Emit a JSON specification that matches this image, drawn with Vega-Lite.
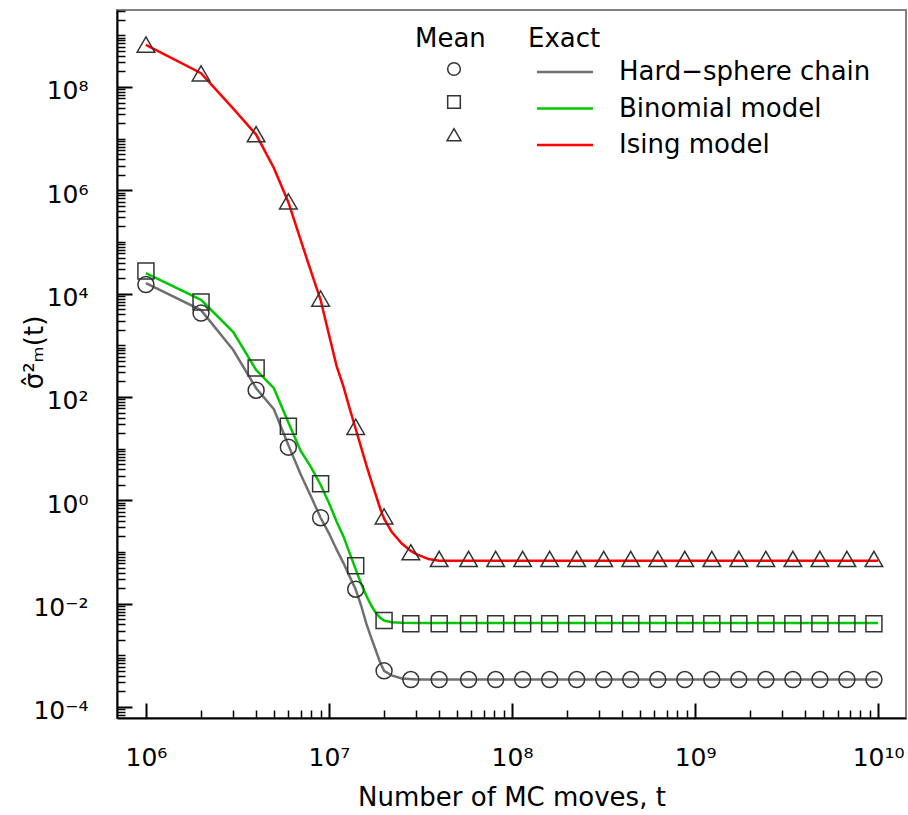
{
  "$schema": "https://vega.github.io/schema/vega-lite/v6.json",
  "width": 789,
  "height": 708,
  "autosize": {"type": "none"},
  "padding": {"left": 117, "top": 10, "right": 2, "bottom": 97},
  "background": "white",
  "config": {
    "font": "DejaVu Sans",
    "view": {"stroke": "#808080", "strokeWidth": 2}
  },
  "datasets": {
    "exact": [
      {"t": 1e6, "value": 1.6e4, "model": "Hard-sphere chain"},
      {"t": 2e6, "value": 4.8e3, "model": "Hard-sphere chain"},
      {"t": 3e6, "value": 810, "model": "Hard-sphere chain"},
      {"t": 4e6, "value": 148, "model": "Hard-sphere chain"},
      {"t": 5e6, "value": 58, "model": "Hard-sphere chain"},
      {"t": 6e6, "value": 11.7, "model": "Hard-sphere chain"},
      {"t": 7e6, "value": 3.2, "model": "Hard-sphere chain"},
      {"t": 8e6, "value": 1.16, "model": "Hard-sphere chain"},
      {"t": 9e6, "value": 0.46, "model": "Hard-sphere chain"},
      {"t": 1e7, "value": 0.23, "model": "Hard-sphere chain"},
      {"t": 1.1e7, "value": 0.112, "model": "Hard-sphere chain"},
      {"t": 1.2e7, "value": 0.061, "model": "Hard-sphere chain"},
      {"t": 1.3e7, "value": 0.033, "model": "Hard-sphere chain"},
      {"t": 1.4e7, "value": 0.0188, "model": "Hard-sphere chain"},
      {"t": 1.5e7, "value": 0.0091, "model": "Hard-sphere chain"},
      {"t": 1.6e7, "value": 0.0041, "model": "Hard-sphere chain"},
      {"t": 1.7e7, "value": 0.0022, "model": "Hard-sphere chain"},
      {"t": 1.8e7, "value": 0.00127, "model": "Hard-sphere chain"},
      {"t": 1.9e7, "value": 0.00074, "model": "Hard-sphere chain"},
      {"t": 2e7, "value": 0.0005, "model": "Hard-sphere chain"},
      {"t": 2.2e7, "value": 0.00041, "model": "Hard-sphere chain"},
      {"t": 2.5e7, "value": 0.000355, "model": "Hard-sphere chain"},
      {"t": 3e7, "value": 0.00034, "model": "Hard-sphere chain"},
      {"t": 4e7, "value": 0.00034, "model": "Hard-sphere chain"},
      {"t": 1e8, "value": 0.00034, "model": "Hard-sphere chain"},
      {"t": 1e9, "value": 0.00034, "model": "Hard-sphere chain"},
      {"t": 1e10, "value": 0.00034, "model": "Hard-sphere chain"},
      {"t": 1e6, "value": 2.5e4, "model": "Binomial model"},
      {"t": 2e6, "value": 7.6e3, "model": "Binomial model"},
      {"t": 3e6, "value": 1.8e3, "model": "Binomial model"},
      {"t": 4e6, "value": 333, "model": "Binomial model"},
      {"t": 5e6, "value": 148, "model": "Binomial model"},
      {"t": 6e6, "value": 32, "model": "Binomial model"},
      {"t": 7e6, "value": 9.1, "model": "Binomial model"},
      {"t": 8e6, "value": 4.3, "model": "Binomial model"},
      {"t": 9e6, "value": 2.0, "model": "Binomial model"},
      {"t": 1e7, "value": 0.89, "model": "Binomial model"},
      {"t": 1.1e7, "value": 0.39, "model": "Binomial model"},
      {"t": 1.2e7, "value": 0.2, "model": "Binomial model"},
      {"t": 1.3e7, "value": 0.093, "model": "Binomial model"},
      {"t": 1.4e7, "value": 0.046, "model": "Binomial model"},
      {"t": 1.5e7, "value": 0.024, "model": "Binomial model"},
      {"t": 1.6e7, "value": 0.0143, "model": "Binomial model"},
      {"t": 1.7e7, "value": 0.0093, "model": "Binomial model"},
      {"t": 1.8e7, "value": 0.0067, "model": "Binomial model"},
      {"t": 1.9e7, "value": 0.0054, "model": "Binomial model"},
      {"t": 2e7, "value": 0.0047, "model": "Binomial model"},
      {"t": 2.2e7, "value": 0.00435, "model": "Binomial model"},
      {"t": 2.5e7, "value": 0.00425, "model": "Binomial model"},
      {"t": 3e7, "value": 0.0042, "model": "Binomial model"},
      {"t": 4e7, "value": 0.0042, "model": "Binomial model"},
      {"t": 1e8, "value": 0.0042, "model": "Binomial model"},
      {"t": 1e9, "value": 0.0042, "model": "Binomial model"},
      {"t": 1e10, "value": 0.0042, "model": "Binomial model"},
      {"t": 1e6, "value": 6.5e8, "model": "Ising model"},
      {"t": 2e6, "value": 1.85e8, "model": "Ising model"},
      {"t": 3e6, "value": 3.8e7, "model": "Ising model"},
      {"t": 4e6, "value": 1.2e7, "model": "Ising model"},
      {"t": 5e6, "value": 2.7e6, "model": "Ising model"},
      {"t": 6e6, "value": 5.9e5, "model": "Ising model"},
      {"t": 7e6, "value": 1.1e5, "model": "Ising model"},
      {"t": 8e6, "value": 2.6e4, "model": "Ising model"},
      {"t": 9e6, "value": 7.6e3, "model": "Ising model"},
      {"t": 1e7, "value": 1.6e3, "model": "Ising model"},
      {"t": 1.1e7, "value": 400, "model": "Ising model"},
      {"t": 1.2e7, "value": 158, "model": "Ising model"},
      {"t": 1.3e7, "value": 58, "model": "Ising model"},
      {"t": 1.4e7, "value": 24, "model": "Ising model"},
      {"t": 1.5e7, "value": 10.5, "model": "Ising model"},
      {"t": 1.6e7, "value": 4.8, "model": "Ising model"},
      {"t": 1.7e7, "value": 2.4, "model": "Ising model"},
      {"t": 1.8e7, "value": 1.29, "model": "Ising model"},
      {"t": 1.9e7, "value": 0.71, "model": "Ising model"},
      {"t": 2e7, "value": 0.44, "model": "Ising model"},
      {"t": 2.2e7, "value": 0.245, "model": "Ising model"},
      {"t": 2.5e7, "value": 0.146, "model": "Ising model"},
      {"t": 2.8e7, "value": 0.105, "model": "Ising model"},
      {"t": 3e7, "value": 0.091, "model": "Ising model"},
      {"t": 3.5e7, "value": 0.073, "model": "Ising model"},
      {"t": 4e7, "value": 0.068, "model": "Ising model"},
      {"t": 1e8, "value": 0.068, "model": "Ising model"},
      {"t": 1e9, "value": 0.068, "model": "Ising model"},
      {"t": 1e10, "value": 0.068, "model": "Ising model"}
    ],
    "means": [
      {"t": 1e6, "value": 1.5e4, "model": "Hard-sphere chain"},
      {"t": 2e6, "value": 4.2e3, "model": "Hard-sphere chain"},
      {"t": 4e6, "value": 135, "model": "Hard-sphere chain"},
      {"t": 6e6, "value": 10.7, "model": "Hard-sphere chain"},
      {"t": 9e6, "value": 0.46, "model": "Hard-sphere chain"},
      {"t": 1.4e7, "value": 0.019, "model": "Hard-sphere chain"},
      {"t": 2e7, "value": 0.0005, "model": "Hard-sphere chain"},
      {"t": 2.8e7, "value": 0.00034, "model": "Hard-sphere chain"},
      {"t": 4e7, "value": 0.00034, "model": "Hard-sphere chain"},
      {"t": 5.79e7, "value": 0.00034, "model": "Hard-sphere chain"},
      {"t": 8.14e7, "value": 0.00034, "model": "Hard-sphere chain"},
      {"t": 1.143e8, "value": 0.00034, "model": "Hard-sphere chain"},
      {"t": 1.606e8, "value": 0.00034, "model": "Hard-sphere chain"},
      {"t": 2.256e8, "value": 0.00034, "model": "Hard-sphere chain"},
      {"t": 3.17e8, "value": 0.00034, "model": "Hard-sphere chain"},
      {"t": 4.453e8, "value": 0.00034, "model": "Hard-sphere chain"},
      {"t": 6.256e8, "value": 0.00034, "model": "Hard-sphere chain"},
      {"t": 8.788e8, "value": 0.00034, "model": "Hard-sphere chain"},
      {"t": 1.2344e9, "value": 0.00034, "model": "Hard-sphere chain"},
      {"t": 1.734e9, "value": 0.00034, "model": "Hard-sphere chain"},
      {"t": 2.436e9, "value": 0.00034, "model": "Hard-sphere chain"},
      {"t": 3.422e9, "value": 0.00034, "model": "Hard-sphere chain"},
      {"t": 4.807e9, "value": 0.00034, "model": "Hard-sphere chain"},
      {"t": 6.752e9, "value": 0.00034, "model": "Hard-sphere chain"},
      {"t": 9.485e9, "value": 0.00034, "model": "Hard-sphere chain"},
      {"t": 1e6, "value": 2.75e4, "model": "Binomial model"},
      {"t": 2e6, "value": 6.9e3, "model": "Binomial model"},
      {"t": 4e6, "value": 363, "model": "Binomial model"},
      {"t": 6e6, "value": 27, "model": "Binomial model"},
      {"t": 9e6, "value": 2.1, "model": "Binomial model"},
      {"t": 1.4e7, "value": 0.054, "model": "Binomial model"},
      {"t": 2e7, "value": 0.0047, "model": "Binomial model"},
      {"t": 2.8e7, "value": 0.0041, "model": "Binomial model"},
      {"t": 4e7, "value": 0.0041, "model": "Binomial model"},
      {"t": 5.79e7, "value": 0.0041, "model": "Binomial model"},
      {"t": 8.14e7, "value": 0.0041, "model": "Binomial model"},
      {"t": 1.143e8, "value": 0.0041, "model": "Binomial model"},
      {"t": 1.606e8, "value": 0.0041, "model": "Binomial model"},
      {"t": 2.256e8, "value": 0.0041, "model": "Binomial model"},
      {"t": 3.17e8, "value": 0.0041, "model": "Binomial model"},
      {"t": 4.453e8, "value": 0.0041, "model": "Binomial model"},
      {"t": 6.256e8, "value": 0.0041, "model": "Binomial model"},
      {"t": 8.788e8, "value": 0.0041, "model": "Binomial model"},
      {"t": 1.2344e9, "value": 0.0041, "model": "Binomial model"},
      {"t": 1.734e9, "value": 0.0041, "model": "Binomial model"},
      {"t": 2.436e9, "value": 0.0041, "model": "Binomial model"},
      {"t": 3.422e9, "value": 0.0041, "model": "Binomial model"},
      {"t": 4.807e9, "value": 0.0041, "model": "Binomial model"},
      {"t": 6.752e9, "value": 0.0041, "model": "Binomial model"},
      {"t": 9.485e9, "value": 0.0041, "model": "Binomial model"},
      {"t": 1e6, "value": 6.5e8, "model": "Ising model"},
      {"t": 2e6, "value": 1.8e8, "model": "Ising model"},
      {"t": 4e6, "value": 1.2e7, "model": "Ising model"},
      {"t": 6e6, "value": 6e5, "model": "Ising model"},
      {"t": 9e6, "value": 7.9e3, "model": "Ising model"},
      {"t": 1.4e7, "value": 26, "model": "Ising model"},
      {"t": 2e7, "value": 0.48, "model": "Ising model"},
      {"t": 2.8e7, "value": 0.097, "model": "Ising model"},
      {"t": 4e7, "value": 0.072, "model": "Ising model"},
      {"t": 5.79e7, "value": 0.072, "model": "Ising model"},
      {"t": 8.14e7, "value": 0.072, "model": "Ising model"},
      {"t": 1.143e8, "value": 0.072, "model": "Ising model"},
      {"t": 1.606e8, "value": 0.072, "model": "Ising model"},
      {"t": 2.256e8, "value": 0.072, "model": "Ising model"},
      {"t": 3.17e8, "value": 0.072, "model": "Ising model"},
      {"t": 4.453e8, "value": 0.072, "model": "Ising model"},
      {"t": 6.256e8, "value": 0.072, "model": "Ising model"},
      {"t": 8.788e8, "value": 0.072, "model": "Ising model"},
      {"t": 1.2344e9, "value": 0.072, "model": "Ising model"},
      {"t": 1.734e9, "value": 0.072, "model": "Ising model"},
      {"t": 2.436e9, "value": 0.072, "model": "Ising model"},
      {"t": 3.422e9, "value": 0.072, "model": "Ising model"},
      {"t": 4.807e9, "value": 0.072, "model": "Ising model"},
      {"t": 6.752e9, "value": 0.072, "model": "Ising model"},
      {"t": 9.485e9, "value": 0.072, "model": "Ising model"}
    ]
  },
  "layer": [
    {
      "data": {"name": "exact"},
      "mark": {"type": "line", "strokeWidth": 2.5},
      "encoding": {
        "x": {
          "field": "t", "type": "quantitative",
          "scale": {"type": "log", "domain": [695000, 14200000000], "nice": false},
          "axis": {
            "orient": "bottom",
            "values": [1e6, 1e7, 1e8, 1e9, 1e10],
            "labelExpr": "datum.value < 5e6 ? '10⁶' : datum.value < 5e7 ? '10⁷' : datum.value < 5e8 ? '10⁸' : datum.value < 5e9 ? '10⁹' : '10¹⁰'",
            "grid": false,
            "tickSize": -15, "tickWidth": 2, "tickColor": "black",
            "domainColor": "black", "domainWidth": 2,
            "labelFontSize": 25, "labelColor": "black", "labelPadding": 42,
            "labelFlush": false, "labelOverlap": false,
            "title": "Number of MC moves, t",
            "titleFontSize": 26, "titleFontWeight": "normal", "titleColor": "black",
            "titlePadding": 14
          }
        },
        "y": {
          "field": "value", "type": "quantitative",
          "scale": {"type": "log", "domain": [6.12e-5, 3.09e9], "nice": false},
          "axis": {
            "orient": "left",
            "values": [0.0001, 0.01, 1, 100, 10000, 1000000, 100000000],
            "labelExpr": "datum.value < 0.001 ? '10⁻⁴' : datum.value < 0.1 ? '10⁻²' : datum.value < 10 ? '10⁰' : datum.value < 1000 ? '10²' : datum.value < 100000 ? '10⁴' : datum.value < 10000000 ? '10⁶' : '10⁸'",
            "grid": false,
            "tickSize": -15, "tickWidth": 2, "tickColor": "black",
            "domainColor": "black", "domainWidth": 2,
            "labelFontSize": 25, "labelColor": "black", "labelPadding": 44,
            "labelOffset": 4, "labelFlush": false, "labelOverlap": false,
            "title": "σ̂²ₘ(t)",
            "titleFontSize": 26, "titleFontWeight": "normal", "titleColor": "black",
            "titleX": -83, "titleY": 342, "titleAngle": 270, "titleBaseline": "middle", "titleAlign": "center"
          }
        },
        "color": {
          "field": "model", "type": "nominal",
          "sort": ["Hard-sphere chain", "Binomial model", "Ising model"],
          "scale": {"range": ["#707070", "#00c800", "#ff0000"]},
          "legend": {
            "title": "Exact", "orient": "none", "legendX": 411, "legendY": 16,
            "symbolType": "M-4,0H4", "symbolSize": 196, "symbolStrokeWidth": 2.5,
            "symbolOffset": 24, "labelOffset": 41,
            "labelFontSize": 26, "labelColor": "black",
            "labelExpr": "replace(datum.label, '-', '−')",
            "titleFontSize": 26, "titleFontWeight": "normal", "titleColor": "black",
            "titlePadding": 7, "rowPadding": 10.5, "padding": 0, "labelLimit": 400
          }
        }
      }
    },
    {
      "data": {"name": "means"},
      "mark": {"type": "point", "filled": false, "color": "#333333", "strokeWidth": 1.5, "size": 256, "opacity": 1},
      "encoding": {
        "x": {
          "field": "t", "type": "quantitative",
          "axis": {
            "orient": "bottom",
            "values": [2e6, 3e6, 4e6, 5e6, 6e6, 7e6, 8e6, 9e6, 2e7, 3e7, 4e7, 5e7, 6e7, 7e7, 8e7, 9e7, 2e8, 3e8, 4e8, 5e8, 6e8, 7e8, 8e8, 9e8, 2e9, 3e9, 4e9, 5e9, 6e9, 7e9, 8e9, 9e9],
            "labels": false, "domain": false, "grid": false, "title": null,
            "tickSize": -8, "tickWidth": 1.5, "tickColor": "black"
          }
        },
        "y": {
          "field": "value", "type": "quantitative",
          "axis": {
            "orient": "left",
            "values": [7e-5, 8e-5, 9e-5, 2e-4, 3e-4, 4e-4, 5e-4, 6e-4, 7e-4, 8e-4, 9e-4, 1e-3, 2e-3, 3e-3, 4e-3, 5e-3, 6e-3, 7e-3, 8e-3, 9e-3, 0.02, 0.03, 0.04, 0.05, 0.06, 0.07, 0.08, 0.09, 0.1, 0.2, 0.3, 0.4, 0.5, 0.6, 0.7, 0.8, 0.9, 2, 3, 4, 5, 6, 7, 8, 9, 10, 20, 30, 40, 50, 60, 70, 80, 90, 200, 300, 400, 500, 600, 700, 800, 900, 1000, 2000, 3000, 4000, 5000, 6000, 7000, 8000, 9000, 2e4, 3e4, 4e4, 5e4, 6e4, 7e4, 8e4, 9e4, 1e5, 2e5, 3e5, 4e5, 5e5, 6e5, 7e5, 8e5, 9e5, 2e6, 3e6, 4e6, 5e6, 6e6, 7e6, 8e6, 9e6, 1e7, 2e7, 3e7, 4e7, 5e7, 6e7, 7e7, 8e7, 9e7, 2e8, 3e8, 4e8, 5e8, 6e8, 7e8, 8e8, 9e8, 1e9, 2e9, 3e9],
            "labels": false, "domain": false, "grid": false, "title": null,
            "tickSize": -8, "tickWidth": 1.5, "tickColor": "black"
          }
        },
        "shape": {
          "field": "model", "type": "nominal",
          "sort": ["Hard-sphere chain", "Binomial model", "Ising model"],
          "scale": {"range": ["circle", "square", "M0,-1L1.1,0.9L-1.1,0.9Z"]},
          "legend": {
            "title": "Mean", "orient": "none", "legendX": 298, "legendY": 16,
            "symbolSize": 160, "symbolStrokeWidth": 1.5, "symbolStrokeColor": "#333333", "symbolFillColor": "transparent",
            "symbolOffset": 26, "labelOpacity": 0,
            "labelFontSize": 26,
            "titleFontSize": 26, "titleFontWeight": "normal", "titleColor": "black",
            "titlePadding": 4, "rowPadding": 7, "padding": 0
          }
        }
      }
    }
  ],
  "resolve": {"axis": {"x": "independent", "y": "independent"}}
}
